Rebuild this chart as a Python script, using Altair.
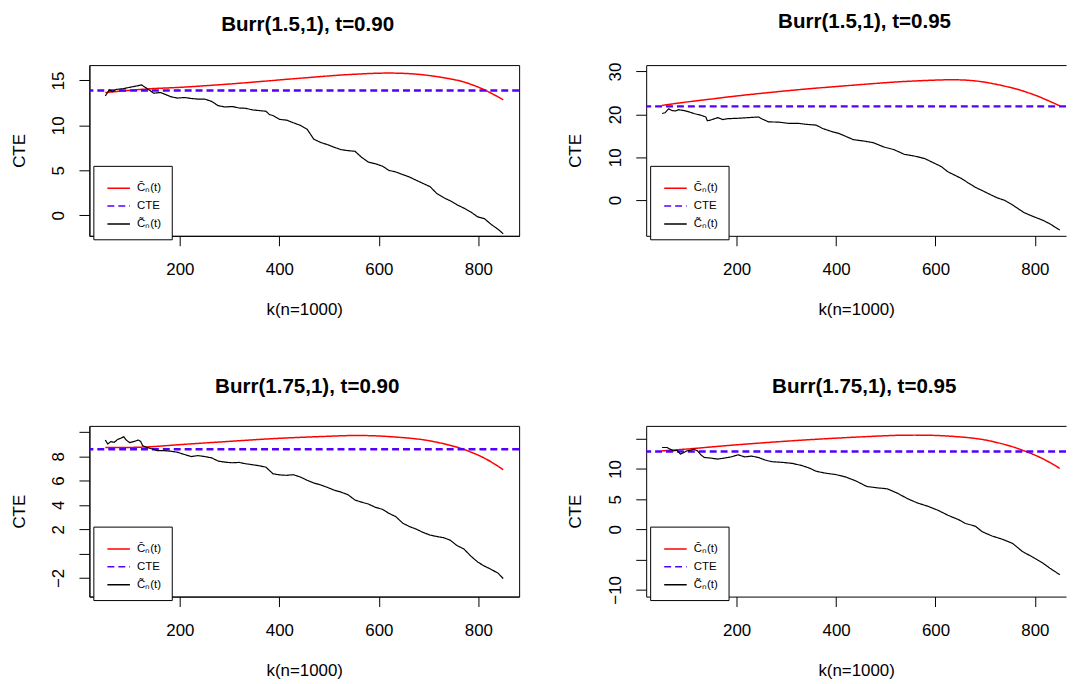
import altair as alt
import pandas as pd

FONT = "Liberation Sans"
LBL_RED = "C\u0304\u2099(t)"
LBL_CTE = "CTE"
LBL_BLK = "C\u0303\u2099(t)"
SERIES = [LBL_RED, LBL_CTE, LBL_BLK]
COLORS = ["#ff0000", "#5500ff", "#000000"]

titles = ["Burr(1.5,1), t=0.90", "Burr(1.5,1), t=0.95",
          "Burr(1.75,1), t=0.90", "Burr(1.75,1), t=0.95"]

# smooth estimator (red)
red_k = [50, 100, 150, 200, 300, 400, 500, 550, 600, 650, 700, 750, 775, 800, 825, 850]
tl_red = [13.65, 13.9, 14.1, 14.23, 14.6, 15.05, 15.5, 15.68, 15.8, 15.78, 15.55, 15.1, 14.75, 14.25, 13.6, 12.85]
tr_red = [22.1, 22.9, 23.6, 24.3, 25.5, 26.5, 27.4, 27.75, 28.0, 28.05, 27.5, 26.3, 25.5, 24.5, 23.3, 22.0]
bl_red = [8.72, 8.72, 8.8, 8.95, 9.22, 9.47, 9.64, 9.7, 9.66, 9.52, 9.28, 8.82, 8.5, 8.08, 7.55, 6.89]
br_red = [13.0, 13.3, 13.65, 14.0, 14.6, 15.1, 15.5, 15.6, 15.55, 15.3, 14.8, 13.8, 13.1, 12.3, 11.3, 10.1]

# true CTE (dashed)
cte_vals = [13.87, 21.88, 8.57, 12.9]

# empirical estimator (black)
tl_k = [50, 58, 65, 72, 85, 99, 113, 123, 130, 140, 147, 161, 168, 181, 195, 209, 223, 236, 250, 264,
        277, 291, 305, 319, 332, 346, 360, 373, 380, 387, 401, 415, 428, 442, 456, 469, 483, 497, 511, 524,
        538, 552, 565, 579, 593, 607, 620, 634, 648, 661, 675, 689, 703, 716, 730, 744, 757, 771, 785, 799,
        812, 826, 840, 850]
tl_emp = [13.28, 13.94, 13.75, 14.0, 14.07, 14.23, 14.38, 14.5, 14.23, 13.87, 13.58, 13.65, 13.5, 13.2, 13.03,
          13.1, 12.99, 12.92, 12.92, 12.66, 12.19, 12.04, 12.1, 11.93, 11.9, 11.72, 11.64, 11.57, 11.2, 11.1,
          10.66, 10.58, 10.29, 10.0, 9.56, 8.47, 8.1, 7.85, 7.55, 7.3, 7.19, 7.12, 6.46, 5.91, 5.73,
          5.47, 5.0, 4.82, 4.53, 4.27, 3.9, 3.54, 3.18, 2.45, 1.97, 1.6, 1.17, 0.8, 0.36, -0.18,
          -0.37, -1.02, -1.57, -2.05]

tr_k = [50, 56, 63, 70, 77, 83, 94, 104, 114, 128, 138, 141, 148, 162, 172, 182, 203, 223, 244, 250,
        264, 285, 305, 325, 339, 360, 373, 394, 407, 421, 435, 455, 475, 496, 516, 537, 557, 578, 598, 612,
        625, 639, 653, 666, 680, 698, 712, 725, 738, 752, 765, 778, 792, 805, 818, 831, 842, 850]
tr_emp = [20.2, 20.4, 21.3, 20.9, 20.8, 21.1, 20.9, 20.6, 20.2, 19.8, 19.4, 18.5, 18.7, 19.25, 18.8,
          19.0, 19.1, 19.25, 19.4, 19.0, 18.25, 18.2, 17.9, 17.9, 17.7, 17.5, 16.7, 15.9, 15.5, 14.8,
          14.1, 13.8, 13.4, 12.4, 11.8, 10.7, 10.3, 9.7, 8.6, 7.8, 6.6, 5.8, 5.0, 4.0, 3.0,
          2.0, 1.2, 0.5, 0.0, -0.9, -1.9, -2.9, -3.6, -4.2, -4.8, -5.6, -6.4, -7.0]

bl_k = [50, 55, 61, 68, 75, 82, 87, 92, 99, 109, 116, 121, 125, 133, 144, 154, 168, 181, 195, 209,
        223, 236, 250, 264, 277, 291, 305, 319, 332, 346, 360, 373, 387, 401, 415, 428, 442, 456, 469, 483,
        497, 511, 524, 538, 552, 565, 579, 593, 607, 620, 634, 648, 661, 675, 689, 703, 716, 730, 744, 757,
        771, 785, 799, 812, 826, 840, 850]
bl_emp = [9.33, 9.0, 9.2, 9.14, 9.38, 9.49, 9.6, 9.33, 9.11, 9.22, 9.33, 9.22, 8.87, 8.73, 8.6,
          8.46, 8.46, 8.41, 8.33, 8.14, 7.97, 8.05, 7.97, 7.86, 7.6, 7.51, 7.46, 7.49, 7.38, 7.3,
          7.21, 7.1, 6.56, 6.46, 6.43, 6.48, 6.29, 6.02, 5.8, 5.64, 5.43, 5.2, 5.05, 4.83, 4.4,
          4.23, 4.07, 3.8, 3.64, 3.31, 3.04, 2.5, 2.23, 2.01, 1.74, 1.52, 1.41, 1.31, 1.09, 0.66,
          0.38, -0.21, -0.7, -1.02, -1.3, -1.62, -2.05]

br_k = [50, 60, 66, 73, 80, 87, 94, 100, 107, 114, 121, 128, 135, 148, 162, 175, 189, 203, 216, 230,
        244, 257, 271, 291, 312, 332, 346, 360, 380, 400, 421, 441, 462, 482, 503, 523, 544, 564, 585, 605,
        625, 646, 660, 680, 694, 714, 735, 755, 775, 796, 816, 830, 850]
br_emp = [13.55, 13.55, 13.28, 13.0, 13.1, 12.46, 12.73, 13.0, 13.1, 13.28, 13.0, 12.35, 11.9, 11.8, 11.64,
          11.8, 12.0, 12.35, 12.0, 12.13, 11.9, 11.48, 11.2, 11.1, 10.93, 10.55, 10.16, 9.62, 9.29, 9.07,
          8.63, 7.98, 7.1, 6.89, 6.72, 6.01, 5.08, 4.37, 3.83, 3.17, 2.35, 1.64, 0.98, 0.55, -0.38,
          -1.09, -1.64, -2.3, -3.66, -4.59, -5.57, -6.4, -7.49]

x_ticks = [200, 400, 600, 800]
y_ticks = [[0, 5, 10, 15], [0, 10, 20, 30], [-2, 0, 2, 4, 6, 8, 10], [-10, -5, 0, 5, 10, 15]]
y_hidden = [[], [], [0, 10], [-5, 15]]
y_domains = [[-2.28, 16.7], [-8.33, 31.5], [-3.53, 10.49], [-11.11, 17.13]]

W_LEFT, W_RIGHT, H = 433, 423, 172
x_dom_left = [18, 882]
x_dom_right = [18, 862.6]

panels = [
    dict(k=tl_k, emp=tl_emp, red=tl_red, right=False, toff=14, dx=3.4),
    dict(k=tr_k, emp=tr_emp, red=tr_red, right=True, toff=14, dx=8.5),
    dict(k=bl_k, emp=bl_emp, red=bl_red, right=False, toff=12, dx=3.0),
    dict(k=br_k, emp=br_emp, red=br_red, right=True, toff=12, dx=8.2),
]


def make_panel(i, p):
    right = p["right"]
    w = W_RIGHT if right else W_LEFT
    xscale = alt.Scale(domain=x_dom_right if right else x_dom_left, nice=False, zero=False)
    yscale = alt.Scale(domain=y_domains[i], nice=False, zero=False)

    hidden = y_hidden[i]
    if hidden:
        expr = " || ".join("datum.value == %s" % v for v in hidden) + " ? '' : datum.label"
    else:
        expr = "datum.label"

    xaxis = alt.Axis(values=x_ticks, title="k(n=1000)", tickSize=10, labelPadding=16,
                     labelBaseline="top", labelFontSize=17, titleFontSize=17,
                     titleFontWeight="normal", titleBaseline="alphabetic", titleAlign="center",
                     titleX=w / 2, titleY=79, grid=False, labelFlush=False, labelOverlap=False,
                     format="d")
    xaxis_top = alt.Axis(orient="top", labels=False, ticks=False, title=None, domain=True, grid=False)
    yaxis = alt.Axis(values=y_ticks[i], title="CTE", tickSize=10.5, labelPadding=15.2,
                     labelAngle=270, labelAlign="center", labelBaseline="alphabetic",
                     labelFontSize=17, labelExpr=expr, titleFontSize=17, titleFontWeight="normal",
                     titleAngle=270, titleAlign="center", titleBaseline="alphabetic",
                     titleX=-65.7, titleY=H / 2, grid=False, labelFlush=False, labelOverlap=False)

    leg = alt.Legend(title=None, orient="none", legendX=4, legendY=101.5, symbolType="stroke",
                     symbolSize=515, symbolStrokeWidth=1.5, labelFontSize=11.5, labelFont=FONT,
                     labelColor="black", padding=10, rowPadding=0, symbolOffset=3, labelOffset=6,
                     strokeColor="black", fillColor="white", labelLimit=0)
    color = alt.Color("s:N", scale=alt.Scale(domain=SERIES, range=COLORS), legend=leg)
    dash = alt.StrokeDash("s:N", scale=alt.Scale(domain=SERIES, range=[[1, 0], [7, 4], [1, 0]]), legend=leg)

    red_df = pd.DataFrame({"k": red_k, "v": p["red"], "s": LBL_RED})
    blk_df = pd.DataFrame({"k": p["k"], "v": p["emp"], "s": LBL_BLK})
    cte_df = pd.DataFrame({"v": [cte_vals[i]], "s": [LBL_CTE]})

    red = alt.Chart(red_df).mark_line(strokeWidth=1.5, interpolate="natural", clip=True).encode(
        x=alt.X("k:Q", scale=xscale, axis=xaxis_top if right else xaxis),
        y=alt.Y("v:Q", scale=yscale, axis=yaxis),
        color=color, strokeDash=dash)
    rule = alt.Chart(cte_df).mark_rule(strokeWidth=2.4).encode(
        y=alt.Y("v:Q", scale=yscale, axis=yaxis),
        color=color, strokeDash=dash)
    blk = alt.Chart(blk_df).mark_line(strokeWidth=1.2, clip=True, strokeJoin="round").encode(
        x=alt.X("k:Q", scale=xscale, axis=xaxis),
        y=alt.Y("v:Q", scale=yscale, axis=yaxis),
        color=color, strokeDash=dash)

    layer = alt.layer(red, rule, blk)
    if right:
        layer = layer.resolve_axis(x="independent")
    props = dict(width=w, height=H,
                 title=alt.TitleParams(titles[i], fontSize=20.7, fontWeight="bold", font=FONT,
                                       anchor="middle", frame="group", baseline="alphabetic",
                                       offset=p["toff"], dx=p["dx"], color="black"))
    if right:
        props["view"] = alt.ViewBackground(stroke=None)
    return layer.properties(**props)


charts = [make_panel(i, p) for i, p in enumerate(panels)]

chart = alt.concat(*charts, columns=2, spacing={"row": 191.5, "column": 128}, bounds="flush").resolve_scale(
    color="independent", strokeDash="independent"
).properties(
    padding={"left": 1.0, "top": 0, "right": 0, "bottom": 0}
).configure(
    font=FONT
).configure_view(
    stroke="black", strokeWidth=1
).configure_axis(
    domainColor="black", tickColor="black", labelColor="black", titleColor="black",
    labelFont=FONT, titleFont=FONT, domainWidth=1, tickWidth=1
)

chart.save("out.html", embed_options={"renderer": "svg", "actions": False})
